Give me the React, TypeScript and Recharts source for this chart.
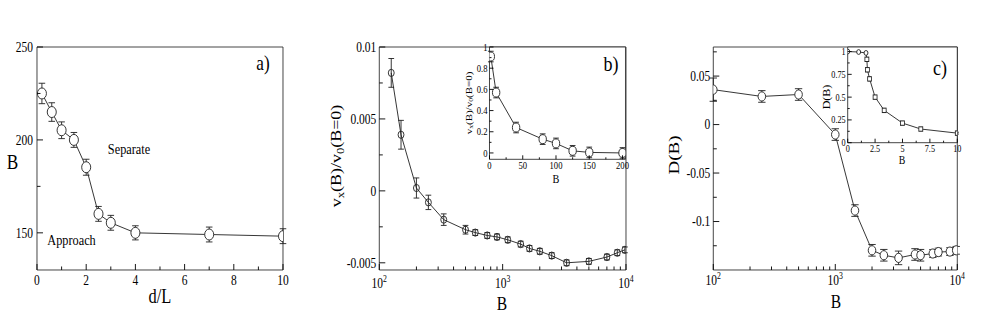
import React from "react";
import { ComposedChart, Line, XAxis, YAxis, ErrorBar, ReferenceArea } from "recharts";

// the source figure is squeezed horizontally, so everything is drawn wider and scaled back
const S = 0.82;
const W = 981 / S;
const H = 318;
const FONT = "'Liberation Serif', 'DejaVu Serif', serif";

// a) critical field vs distance
const sepD = [0.2, 0.6, 1, 1.5, 2, 2.5, 3, 4, 7, 10];
const sepB = [225, 215, 205.2, 200, 185.3, 160.2, 155.4, 150, 149.1, 148.2];
const sepErr = [5.5, 5, 4.5, 4, 4.3, 4, 4, 3.8, 4, 4];

// b) drift velocity vs B
const velB = [125, 150, 200, 250, 333, 500, 600, 750, 900, 1100, 1400, 1650, 2000, 2500, 3300, 5000, 7000, 8500, 9800];
const velV = [0.0082, 0.0039, 0.0002, -0.0008, -0.002, -0.0027, -0.0029, -0.0031, -0.0032, -0.0034, -0.0037, -0.004, -0.0042, -0.0045, -0.005, -0.0049, -0.0046, -0.0043, -0.0041];
const velErr = [0.001, 0.001, 0.0007, 0.0005, 0.0004, 0.0003, 0.0002, 0.0002, 0.0002, 0.0002, 0.0002, 0.0002, 0.0002, 0.0002, 0.0002, 0.0002, 0.0002, 0.0002, 0.0002];

// b) inset, small B
const velSmallB = [2, 10, 40, 80, 100, 125, 150, 200];
const velSmallV = [0.91, 0.57, 0.24, 0.13, 0.09, 0.02, 0.005, 0.0];
const velSmallErr = [0.05, 0.05, 0.05, 0.05, 0.05, 0.05, 0.05, 0.05];

// c) diffusion vs B
const difB = [100, 250, 500, 1000, 1450, 2000, 2500, 3300, 4500, 5000, 6300, 7000, 8700, 9800];
const difD = [0.036, 0.029, 0.031, -0.0103, -0.0887, -0.1297, -0.1348, -0.1375, -0.134, -0.1348, -0.133, -0.1315, -0.131, -0.1297];
const difErr = [0.012, 0.006, 0.006, 0.006, 0.006, 0.006, 0.006, 0.007, 0.006, 0.006, 0.004, 0.004, 0.004, 0.004];

// c) inset, small B
const difSmallB = [0, 1, 1.67, 1.75, 1.8, 2, 2.5, 3.33, 5, 6.67, 10];
const difSmallD = [1, 0.995, 0.985, 0.915, 0.8, 0.7, 0.5, 0.355, 0.215, 0.15, 0.105];
const difSmallErr = [0, 0, 0.01, 0.02, 0.02, 0.02, 0.015, 0.015, 0.015, 0.015, 0.01];

// ticks
const aXTicks = [0, 1, 2, 3, 4, 5, 6, 7, 8, 9, 10];
const aXMajor = [0, 2, 4, 6, 8, 10];
const aYTicks = [150, 175, 200, 225, 250];
const aYMajor = [150, 200, 250];

const logTicks = [100, 200, 300, 400, 500, 600, 700, 800, 900, 1000, 2000, 3000, 4000, 5000, 6000, 7000, 8000, 9000, 10000];
const logMajor = [100, 1000, 10000];

const bYTicks = [-0.005, -0.0025, 0, 0.0025, 0.005, 0.0075, 0.01];
const bYMajor = [-0.005, 0, 0.005, 0.01];
const biXTicks = [0, 25, 50, 75, 100, 125, 150, 175, 200];
const biXMajor = [0, 50, 100, 150, 200];
const biYTicks = [0, 0.1, 0.2, 0.3, 0.4, 0.5, 0.6, 0.7, 0.8, 0.9, 1];
const biYMajor = [0, 0.2, 0.4, 0.6, 0.8, 1];

const cYTicks = [-0.125, -0.1, -0.075, -0.05, -0.025, 0, 0.025, 0.05, 0.075];
const cYMajor = [-0.1, -0.05, 0, 0.05];
const ciXTicks = [0, 1.25, 2.5, 3.75, 5, 6.25, 7.5, 8.75, 10];
const ciXMajor = [0, 2.5, 5, 7.5, 10];
const ciYTicks = [0, 0.125, 0.25, 0.375, 0.5, 0.625, 0.75, 0.875, 1];
const ciYMajor = [0, 0.25, 0.5, 0.75, 1];

const zip = (xs: number[], ys: number[], es: number[]) =>
  xs.map((x, i) => ({ x, y: ys[i], err: es[i] }));

const logLabel = (v: number) => (
  <>
    10
    <tspan dy={-6} fontSize={9.5}>
      {Math.round(Math.log10(v))}
    </tspan>
  </>
);

type Box = { l: number; r: number; t: number; b: number };

interface PanelProps {
  box: Box;
  data: { x: number; y: number; err: number }[];
  xDomain: [number, number];
  yDomain: [number, number];
  xTicks: number[];
  xMajor: number[];
  yTicks: number[];
  yMajor: number[];
  log?: boolean;
  fs: number;
  xDy: number;
  yDx: number;
  majorLen: number;
  minorLen: number;
  cap: number;
  dot: (p: any) => React.ReactElement;
}

function Panel(p: PanelProps) {
  // axes get 1px of room (a zero-sized axis is not drawn)
  const margin = { left: p.box.l / S - 1, right: W - p.box.r / S, top: p.box.t, bottom: H - p.box.b - 1 };

  const xTick = (t: any) => {
    const major = p.xMajor.includes(t.payload.value);
    const len = major ? p.majorLen : p.minorLen;
    return (
      <g>
        <line x1={t.x} x2={t.x} y1={t.y} y2={t.y - len} stroke="#000" />
        {major && (
          <text x={t.x} y={t.y + p.xDy} textAnchor="middle" fontSize={p.fs} fontFamily={FONT} fill="#000">
            {p.log ? logLabel(t.payload.value) : String(t.payload.value)}
          </text>
        )}
      </g>
    );
  };

  const yTick = (t: any) => {
    const major = p.yMajor.includes(t.payload.value);
    const len = (major ? p.majorLen : p.minorLen) / S;
    return (
      <g>
        <line x1={t.x} x2={t.x + len} y1={t.y} y2={t.y} stroke="#000" />
        {major && (
          <text x={t.x - p.yDx / S} y={t.y} dy="0.35em" textAnchor="end" fontSize={p.fs} fontFamily={FONT} fill="#000">
            {String(t.payload.value)}
          </text>
        )}
      </g>
    );
  };

  return (
    <div style={{ position: "absolute", left: 0, top: 0 }}>
      <ComposedChart width={W} height={H} data={p.data} margin={margin}>
        <XAxis
          dataKey="x"
          type="number"
          scale={p.log ? "log" : "linear"}
          domain={p.xDomain}
          ticks={p.xTicks}
          interval={0}
          allowDataOverflow
          axisLine={false}
          tickLine={false}
          tickSize={0}
          tickMargin={0}
          height={1}
          tick={xTick}
        />
        <YAxis
          type="number"
          domain={p.yDomain}
          ticks={p.yTicks}
          interval={0}
          allowDataOverflow
          axisLine={false}
          tickLine={false}
          tickSize={0}
          tickMargin={0}
          width={1}
          tick={yTick}
        />
        <ReferenceArea
          x1={p.xDomain[0]}
          x2={p.xDomain[1]}
          y1={p.yDomain[0]}
          y2={p.yDomain[1]}
          fill="none"
          fillOpacity={0}
          stroke="#333"
          strokeWidth={1}
        />
        <Line
          dataKey="y"
          type="linear"
          stroke="#222"
          strokeWidth={1}
          dot={p.dot}
          activeDot={false}
          isAnimationActive={false}
        >
          <ErrorBar dataKey="err" direction="y" width={p.cap} stroke="#222" strokeWidth={1} />
        </Line>
      </ComposedChart>
    </div>
  );
}

const circle = (r: number, fill = "#fff") => (d: any) => (
  <circle key={d.index} cx={d.cx} cy={d.cy} r={r} fill={fill} stroke="#222" strokeWidth={1} />
);

const smallDot = (d: any) =>
  d.payload.x < 1.7 ? (
    <circle key={d.index} cx={d.cx} cy={d.cy} r={2.4} fill="#fff" stroke="#222" />
  ) : (
    <rect key={d.index} x={d.cx - 2.4} y={d.cy - 2.2} width={4.8} height={4.4} fill="#fff" stroke="#222" />
  );

const T = (props: any) => (
  <text
    fontFamily={FONT}
    fill="#000"
    textAnchor="middle"
    dominantBaseline="central"
    {...props}
    x={props.x / S}
  />
);

const Rot = ({ x, y, size, children }: any) => (
  <text
    transform={`translate(${x / S},${y}) rotate(-90)`}
    fontFamily={FONT}
    fontSize={size}
    fill="#000"
    textAnchor="middle"
    dominantBaseline="central"
  >
    {children}
  </text>
);

const vLabel = (sub: number) => (
  <>
    <tspan>v</tspan>
    <tspan dy={sub * 0.3} fontSize={sub * 0.7}>x</tspan>
    <tspan dy={-sub * 0.3}>(B)/v</tspan>
    <tspan dy={sub * 0.3} fontSize={sub * 0.7}>0</tspan>
    <tspan dy={-sub * 0.3}>(B=0)</tspan>
  </>
);

const whiteBox = (b: Box) => (
  <div
    style={{
      position: "absolute",
      left: b.l / S,
      top: b.t,
      width: (b.r - b.l) / S,
      height: b.b - b.t,
      background: "#fff",
    }}
  />
);

const boxA = { l: 37, r: 283, t: 47, b: 270 };
const boxB = { l: 379.3, r: 626, t: 47, b: 270 };
const boxBi = { l: 489.5, r: 625.5, t: 47, b: 159.3 };
const boxC = { l: 713.3, r: 957.3, t: 47, b: 270 };
const boxCi = { l: 847.7, r: 957.3, t: 47, b: 142.7 };

export default function App() {
  return (
    <div style={{ position: "absolute", left: 0, top: 0, width: 981, height: 318, overflow: "hidden", background: "#fff" }}>
      <div
        style={{
          position: "absolute",
          left: 0,
          top: 0,
          width: W,
          height: H,
          transform: `scaleX(${S})`,
          transformOrigin: "0 0",
        }}
      >
        <Panel
          box={boxA}
          data={zip(sepD, sepB, sepErr)}
          xDomain={[0, 10]}
          yDomain={[130, 250]}
          xTicks={aXTicks}
          xMajor={aXMajor}
          yTicks={aYTicks}
          yMajor={aYMajor}
          fs={14}
          xDy={15}
          yDx={4}
          majorLen={6}
          minorLen={3.5}
          cap={4}
          dot={circle(5.5)}
        />
        <Panel
          box={boxB}
          data={zip(velB, velV, velErr)}
          xDomain={[100, 10000]}
          yDomain={[-0.0055, 0.01]}
          xTicks={logTicks}
          xMajor={logMajor}
          yTicks={bYTicks}
          yMajor={bYMajor}
          log
          fs={14}
          xDy={18}
          yDx={3}
          majorLen={6}
          minorLen={3.5}
          cap={3.5}
          dot={circle(3.6, "none")}
        />
        {whiteBox(boxBi)}
        <Panel
          box={boxBi}
          data={zip(velSmallB, velSmallV, velSmallErr)}
          xDomain={[0, 204.5]}
          yDomain={[-0.06, 1]}
          xTicks={biXTicks}
          xMajor={biXMajor}
          yTicks={biYTicks}
          yMajor={biYMajor}
          fs={10.5}
          xDy={9.5}
          yDx={2}
          majorLen={4}
          minorLen={2}
          cap={3.5}
          dot={circle(4.5)}
        />
        <Panel
          box={boxC}
          data={zip(difB, difD, difErr)}
          xDomain={[100, 10000]}
          yDomain={[-0.15, 0.08]}
          xTicks={logTicks}
          xMajor={logMajor}
          yTicks={cYTicks}
          yMajor={cYMajor}
          log
          fs={14}
          xDy={15}
          yDx={3}
          majorLen={6}
          minorLen={3.5}
          cap={4.5}
          dot={circle(4.6)}
        />
        {whiteBox(boxCi)}
        <Panel
          box={boxCi}
          data={zip(difSmallB, difSmallD, difSmallErr)}
          xDomain={[0, 10]}
          yDomain={[0, 1.05]}
          xTicks={ciXTicks}
          xMajor={ciXMajor}
          yTicks={ciYTicks}
          yMajor={ciYMajor}
          fs={10}
          xDy={9.5}
          yDx={2}
          majorLen={4}
          minorLen={2}
          cap={2}
          dot={smallDot}
        />
        <svg width={W} height={H} style={{ position: "absolute", left: 0, top: 0, pointerEvents: "none" }}>
          <T x={12.5} y={162} fontSize={21}>B</T>
          <T x={160} y={296} fontSize={20}>d/L</T>
          <T x={263} y={63} fontSize={21}>a)</T>
          <T x={129} y={149} fontSize={15}>Separate</T>
          <T x={71.5} y={240} fontSize={15}>Approach</T>

          <Rot x={336} y={156} size={18}>{vLabel(18)}</Rot>
          <T x={502} y={304} fontSize={19}>B</T>
          <T x={611} y={63} fontSize={22}>b)</T>
          <Rot x={468} y={103} size={11}>{vLabel(11)}</Rot>
          <T x={556} y={179} fontSize={12.5}>B</T>

          <Rot x={674} y={155} size={19}>D(B)</Rot>
          <T x={836} y={302} fontSize={19}>B</T>
          <T x={940} y={67} fontSize={22}>c)</T>
          <Rot x={826} y={97} size={12}>D(B)</Rot>
          <T x={902} y={160} fontSize={12}>B</T>
        </svg>
      </div>
    </div>
  );
}
